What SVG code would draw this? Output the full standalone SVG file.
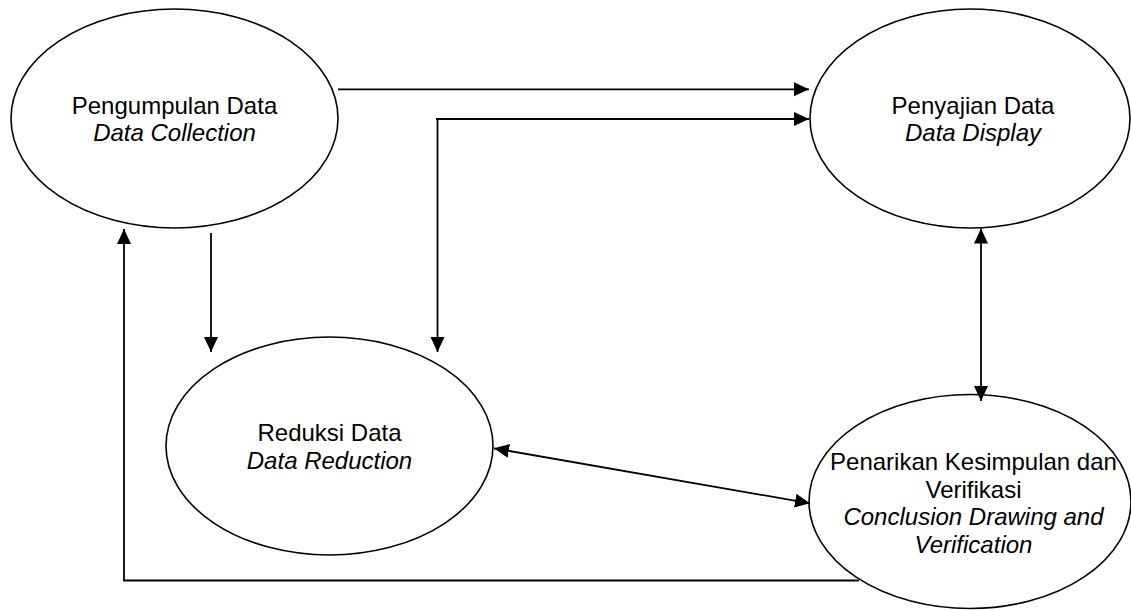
<svg xmlns="http://www.w3.org/2000/svg" width="1131" height="610" viewBox="0 0 1131 610">
<style>
.node{fill:#fff;stroke:#000;stroke-width:1.6}
.t{font-family:"Liberation Sans",Arial,sans-serif;font-size:24px;fill:#000;text-anchor:middle}
.i{font-style:italic}
.c{fill:none;stroke:#000;stroke-width:1.8}
</style>
<defs>
<marker id="ah" markerUnits="userSpaceOnUse" markerWidth="16" markerHeight="16" refX="15" refY="7" orient="auto-start-reverse">
<path d="M0,0 L15,7 L0,14 z" fill="#000"/>
</marker>
</defs>
<rect width="1131" height="610" fill="#fff"/>
<g id="node-collection">
<ellipse class="node" cx="174.5" cy="118.5" rx="163.5" ry="109.5"/>
<text class="t" x="174.5" y="114">Pengumpulan Data</text>
<text class="t i" x="174.5" y="141">Data Collection</text>
</g>
<g id="node-display">
<ellipse class="node" cx="970" cy="118.5" rx="160" ry="109.5"/>
<text class="t" x="973" y="114">Penyajian Data</text>
<text class="t i" x="973" y="141">Data Display</text>
</g>
<g id="node-reduction">
<ellipse class="node" cx="329.5" cy="446" rx="163.5" ry="109"/>
<text class="t" x="329.5" y="441">Reduksi Data</text>
<text class="t i" x="329.5" y="468.5">Data Reduction</text>
</g>
<g id="node-conclusion">
<ellipse class="node" cx="970" cy="501.5" rx="161" ry="107"/>
<text class="t" x="973.5" y="470">Penarikan Kesimpulan dan</text>
<text class="t" x="973.5" y="497.5">Verifikasi</text>
<text class="t i" x="973.5" y="525">Conclusion Drawing and</text>
<text class="t i" x="973.5" y="552.5">Verification</text>
</g>
<g id="connectors">
<line class="c" x1="338" y1="89.3" x2="809" y2="89.3" marker-end="url(#ah)"/>
<line class="c" x1="436" y1="119" x2="809" y2="119" marker-end="url(#ah)"/>
<line class="c" x1="437.5" y1="119" x2="437.5" y2="352" marker-end="url(#ah)"/>
<line class="c" x1="211" y1="233" x2="211" y2="352" marker-end="url(#ah)"/>
<line class="c" x1="981" y1="228.5" x2="981" y2="401" marker-start="url(#ah)" marker-end="url(#ah)"/>
<line class="c" x1="494" y1="448.3" x2="810" y2="503.3" marker-start="url(#ah)" marker-end="url(#ah)"/>
<polyline class="c" points="859,580.5 124,580.5 124,229" marker-end="url(#ah)"/>
</g>
</svg>
